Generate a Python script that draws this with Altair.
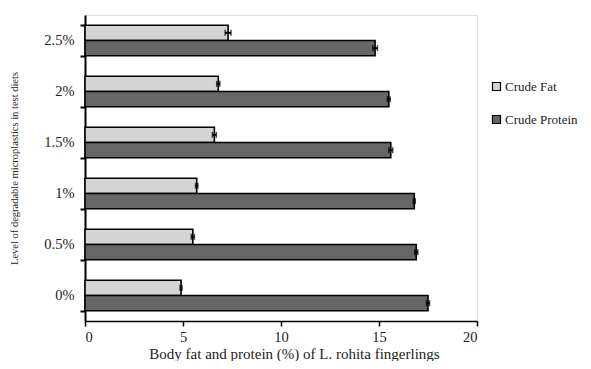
import altair as alt
import pandas as pd

levels = ["0%", "0.5%", "1%", "1.5%", "2%", "2.5%"]
fat = [4.9, 5.5, 5.7, 6.6, 6.8, 7.3]
fat_err = [0.05, 0.08, 0.06, 0.10, 0.08, 0.15]
protein = [17.5, 16.9, 16.8, 15.6, 15.5, 14.8]
protein_err = [0.08, 0.08, 0.05, 0.10, 0.07, 0.12]
series = ["Crude Fat", "Crude Protein"]
x_ticks = [0, 5, 10, 15, 20]

rows = []
for i, lv in enumerate(levels):
    rows.append({"level": lv, "nutrient": series[0], "value": fat[i], "err": fat_err[i]})
    rows.append({"level": lv, "nutrient": series[1], "value": protein[i], "err": protein_err[i]})
df = pd.DataFrame(rows)

FONT = "Liberation Serif, Times New Roman, serif"

y_enc = alt.Y(
    "level:N",
    sort=levels[::-1],
    scale=alt.Scale(paddingInner=0.4, paddingOuter=0.2),
    axis=alt.Axis(
        title="Level of degradable microplastics in test diets",
        titleFont=FONT, titleFontSize=10.5, titleFontWeight="normal", titleColor="#222",
        titleX=-71, titleY=153, titleAngle=-90, titleAlign="center", titleBaseline="middle",
        labelFont=FONT, labelFontSize=14.5, labelColor="#222", labelPadding=6,
        tickBand="extent", tickSize=5, tickColor="black", tickWidth=2,
        domainColor="black", domainWidth=2, grid=False,
    ),
)
yoff = alt.YOffset("nutrient:N", sort=series, scale=alt.Scale(paddingInner=0, paddingOuter=0))
x_scale = alt.Scale(domain=[0, 20], nice=False)

bars = alt.Chart(df).mark_bar(stroke="black", strokeWidth=1.6).encode(
    x=alt.X(
        "value:Q",
        scale=x_scale,
        axis=alt.Axis(
            values=x_ticks,
            title="Body fat and protein (%) of L. rohita fingerlings",
            titleFont=FONT, titleFontSize=15, titleFontWeight="normal", titleColor="#222",
            titleX=209, titleY=37, titleBaseline="alphabetic",
            labelFont=FONT, labelFontSize=14.5, labelColor="#222", labelPadding=4,
            tickSize=5, tickColor="black", tickWidth=1.5,
            domainColor="black", domainWidth=1.5, grid=False,
        ),
    ),
    y=y_enc,
    yOffset=yoff,
    color=alt.Color(
        "nutrient:N",
        sort=series,
        scale=alt.Scale(domain=series, range=["#d4d4d4", "#666666"]),
        legend=alt.Legend(
            title=None, orient="none", legendX=405, legendY=65, padding=0,
            symbolType="square", symbolSize=64, symbolStrokeColor="black", symbolStrokeWidth=1.2,
            labelFont=FONT, labelFontSize=13, labelColor="#222", labelOffset=2,
            rowPadding=19,
        ),
    ),
)

err = alt.Chart(df).transform_calculate(
    lo="datum.value - datum.err", hi="datum.value + datum.err"
).mark_rule(color="black", strokeWidth=2).encode(
    x=alt.X("lo:Q", scale=x_scale),
    x2="hi:Q",
    y=alt.Y("level:N", sort=levels[::-1]),
    yOffset=yoff,
)

caps = alt.Chart(df).transform_calculate(
    lo="datum.value - datum.err", hi="datum.value + datum.err"
).transform_fold(["lo", "hi"], as_=["end", "pos"]).mark_tick(
    color="black", orient="vertical", size=6, thickness=1.5
).encode(
    x=alt.X("pos:Q", scale=x_scale),
    y=alt.Y("level:N", sort=levels[::-1]),
    yOffset=yoff,
)

chart = alt.layer(bars, err, caps).properties(
    width=392,
    height=306,
    autosize=alt.AutoSizeParams(type="none"),
    padding={"left": 77, "top": 7, "right": 106, "bottom": 40},
).configure_view(stroke=None).configure(background="white")

chart.save("out.html", embed_options={"renderer": "svg", "actions": False})
